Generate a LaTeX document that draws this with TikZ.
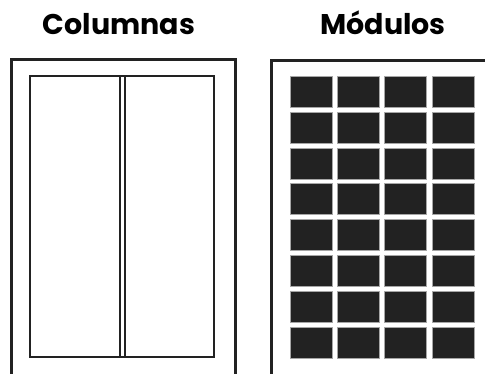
\documentclass[tikz,border=0pt]{standalone}
\usepackage{fontspec}
\setmainfont{Poppins}
\definecolor{tinta}{HTML}{222222}
\begin{document}
\begin{tikzpicture}[x=1pt, y=1pt, line join=miter,
    titulo/.style={anchor=base, font=\fontsize{28.5}{31}\selectfont\bfseries, text=black},
    modulo/.style={fill=tinta, draw=gray!70, line width=0.5pt}]
	\useasboundingbox (0,0) rectangle (485,374);
	\clip (0,0) rectangle (485,374);
	% títulos
	\node[titulo] (columnas) at (119,339) {Columnas};
	\node[titulo] (modulos) at (383,339) {Módulos};
	
	% página izquierda (abierta por abajo)
	\draw[tinta, line width=3pt] (11.5,-5) -- (11.5,314) -- (235,314) -- (235,-5);
	% caja de texto y las dos columnas
	\draw[tinta, line width=2pt] (30,17) rectangle (214,298);
	\draw[tinta, line width=2pt] (119.5,17) -- (119.5,298);
	\draw[tinta, line width=2pt] (125,17) -- (125,298);
	
	% página derecha (cortada a la derecha)
	\draw[tinta, line width=3pt] (271,-5) -- (271,313.5) -- (490,313.5);
	% retícula de módulos 4 x 8
	\foreach \i in {0,...,3}
		\foreach \j in {0,...,7}
			\draw[modulo] ({290+47.3*\i},{298-35.9*\j}) rectangle ++(42,-31);
\end{tikzpicture}
\end{document}
